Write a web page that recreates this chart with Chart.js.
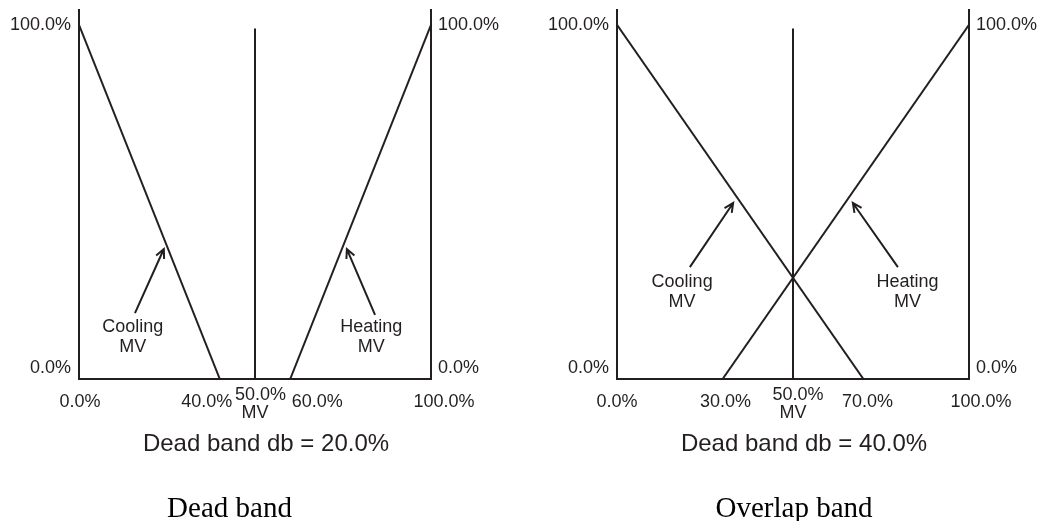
<!DOCTYPE html>
<html>
<head>
<meta charset="utf-8">
<script src="https://cdn.jsdelivr.net/npm/chart.js@4"></script>
<style>
  html, body { margin: 0; padding: 0; background: #fff; }
  .panel { position: absolute; top: 0; width: 519px; height: 521px; }
</style>
</head>
<body>
<div class="panel" style="left:0"><canvas id="dead" width="519" height="521"></canvas></div>
<div class="panel" style="left:519px"><canvas id="overlap" width="519" height="521"></canvas></div>
<script>
// tick values
var yTicks = [0, 100];
var deadXTicks = [0, 40, 50, 60, 100];
var overlapXTicks = [0, 30, 50, 70, 100];

// series (MV % vs output %)
var deadCoolingX = [0, 40];
var deadCoolingY = [100, 0];
var deadHeatingX = [60, 100];
var deadHeatingY = [0, 100];
var overlapCoolingX = [0, 70];
var overlapCoolingY = [100, 0];
var overlapHeatingX = [30, 100];
var overlapHeatingY = [0, 100];
var mvLineX = [50, 50];
var mvLineY = [0, 99];

// text
var noteLabels = [['Cooling', 'MV'], ['Heating', 'MV']];
var deadCaption = 'Dead band db = 20.0%';
var overlapCaption = 'Dead band db = 40.0%';
var deadTitle = 'Dead band';
var overlapTitle = 'Overlap band';

// annotation anchors in data units [x0, y0, x1, y1] (tail -> head), note [x, y]
var deadArrows = [[15.9, 18.6, 24.1, 36.7], [84.1, 18.1, 76.1, 36.7]];
var deadNotePos = [[15.3, 14.7], [83.0, 14.7]];
var overlapArrows = [[20.7, 31.6, 33.0, 49.7], [79.8, 31.6, 67.0, 49.7]];
var overlapNotePos = [[18.5, 27.4], [82.5, 27.4]];

var ink = '#231f20';
var sans = "'Liberation Sans', Arial, sans-serif";

function pts(xs, ys) {
  return xs.map(function (x, i) { return { x: x, y: ys[i] }; });
}

function pct(v) { return v.toFixed(1) + '%'; }

// arrows, notes, x tick labels and captions
var decor = {
  id: 'decor',
  afterDatasetsDraw: function (chart, args, o) {
    var sx = chart.scales.x, sy = chart.scales.y, ctx = chart.ctx, area = chart.chartArea;
    ctx.save();
    ctx.strokeStyle = ink;
    ctx.lineWidth = 2;
    o.arrows.forEach(function (a) {
      var x0 = sx.getPixelForValue(a[0]), y0 = sy.getPixelForValue(a[1]);
      var x1 = sx.getPixelForValue(a[2]), y1 = sy.getPixelForValue(a[3]);
      var ang = Math.atan2(y1 - y0, x1 - x0), len = 10, spread = 0.45;
      ctx.beginPath();
      ctx.moveTo(x0, y0);
      ctx.lineTo(x1, y1);
      ctx.moveTo(x1 - len * Math.cos(ang - spread), y1 - len * Math.sin(ang - spread));
      ctx.lineTo(x1, y1);
      ctx.lineTo(x1 - len * Math.cos(ang + spread), y1 - len * Math.sin(ang + spread));
      ctx.stroke();
    });
    ctx.fillStyle = ink;
    ctx.font = '18px ' + sans;
    ctx.textAlign = 'center';
    ctx.textBaseline = 'middle';
    o.notePos.forEach(function (p, i) {
      var px = sx.getPixelForValue(p[0]), py = sy.getPixelForValue(p[1]);
      noteLabels[i].forEach(function (line, j) {
        ctx.fillText(line, px, py + j * 20);
      });
    });
    // x tick labels
    o.xTicks.forEach(function (v, i) {
      var px = sx.getPixelForValue(v);
      if (v === 50) {
        ctx.fillText(pct(v), px + o.shifts[i], area.bottom + 16.5);
        ctx.fillText('MV', px, area.bottom + 34.5);
      } else {
        ctx.fillText(pct(v), px + o.shifts[i], area.bottom + 23);
      }
    });
    var cx = (area.left + area.right) / 2;
    ctx.textBaseline = 'alphabetic';
    ctx.font = '24px ' + sans;
    ctx.fillText(o.caption, cx + 11, area.bottom + 72);
    ctx.fillStyle = '#000';
    ctx.font = "29px 'Liberation Serif', 'Times New Roman', serif";
    ctx.fillText(o.title, cx + o.titleDx, area.bottom + 138);
    ctx.restore();
  }
};

function yAxis(position, pad, width) {
  return {
    type: 'linear',
    position: position,
    min: 0,
    max: 104.2,
    clip: false,
    afterBuildTicks: function (scale) {
      scale.ticks = yTicks.map(function (v) { return { value: v }; });
    },
    afterFit: function (scale) {
      scale.width = width;
      scale.paddingTop = 0;
      scale.paddingBottom = 0;
    },
    grid: { display: false, drawTicks: false },
    border: { display: true, color: ink, width: 2 },
    ticks: {
      padding: pad,
      color: ink,
      font: { family: sans, size: 18 },
      callback: function (v) { return v === 0 ? [pct(v), ''] : pct(v); }
    }
  };
}

function line(data) {
  return {
    data: data,
    borderColor: ink,
    borderWidth: 2,
    pointRadius: 0,
    tension: 0,
    fill: false
  };
}

function makeChart(id, series, xTicks, shifts, arrows, notePos, caption, title, titleDx, pad) {
  return new Chart(document.getElementById(id).getContext('2d'), {
    type: 'line',
    data: { datasets: series.map(line) },
    options: {
      responsive: false,
      animation: false,
      events: [],
      layout: { padding: { left: pad.left, right: pad.right, top: 10, bottom: 0 } },
      scales: {
        x: {
          type: 'linear',
          min: 0,
          max: 100,
          afterBuildTicks: function (scale) {
            scale.ticks = xTicks.map(function (v) { return { value: v }; });
          },
          afterFit: function (scale) {
            scale.height = 142;
            scale.paddingLeft = 0;
            scale.paddingRight = 0;
          },
          grid: { display: false, drawTicks: false },
          border: { display: true, color: ink, width: 2 },
          ticks: { display: false }
        },
        y: yAxis('left', 8, pad.yWidth),
        y2: yAxis('right', 7, pad.y2Width)
      },
      plugins: {
        legend: { display: false },
        tooltip: { enabled: false },
        decor: {
          arrows: arrows,
          notePos: notePos,
          xTicks: xTicks,
          shifts: shifts,
          caption: caption,
          title: title,
          titleDx: titleDx
        }
      }
    },
    plugins: [decor]
  });
}

makeChart('dead',
  [pts(deadCoolingX, deadCoolingY), pts(deadHeatingX, deadHeatingY), pts(mvLineX, mvLineY)],
  deadXTicks, [1, -13, 5.5, 27, 13], deadArrows, deadNotePos,
  deadCaption, deadTitle, -25.5,
  { left: 1, right: 10, yWidth: 78, y2Width: 78 });

makeChart('overlap',
  [pts(overlapCoolingX, overlapCoolingY), pts(overlapHeatingX, overlapHeatingY), pts(mvLineX, mvLineY)],
  overlapXTicks, [0, 3, 5, 4, 12], overlapArrows, overlapNotePos,
  overlapCaption, overlapTitle, 1,
  { left: 20, right: 0, yWidth: 78, y2Width: 69 });
</script>
</body>
</html>
